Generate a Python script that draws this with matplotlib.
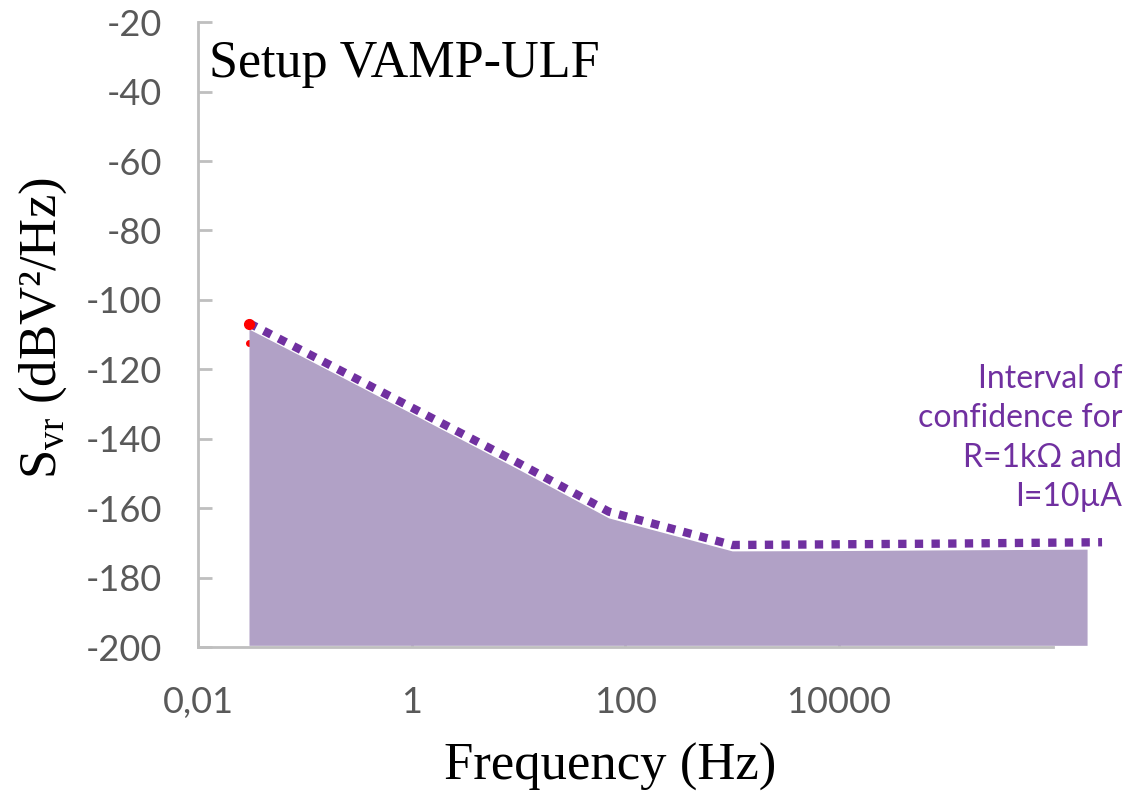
import matplotlib
matplotlib.use("Agg")
import matplotlib.pyplot as plt
import numpy as np

plt.rcParams["axes.unicode_minus"] = False

# Data
freq_low = [0.03, 0.1, 1, 10, 70, 1000, 10000, 100000, 2.1e6]
svr_low = [-108.4, -116.7, -132.7, -148.8, -162.8, -172.3, -172.2, -172.0, -171.8]
freq_high = [0.03, 0.1, 1, 10, 70, 1000, 10000, 100000, 2.9e6]
svr_high = [-106.7, -115.0, -131.0, -147.0, -161.0, -170.6, -170.4, -170.2, -169.8]
red_freq = [0.03, 0.03]
red_svr = [-107.0, -112.5]
fill_floor = -199.5

xticks = [0.01, 1, 100, 10000]
xticklabels = ["0,01", "1", "100", "10000"]
yticks = list(range(-200, 0, 20))

fig = plt.figure(figsize=(11.38, 7.92), dpi=100)
ax = fig.add_axes([0.174, 0.183, 0.751, 0.789])
ax.set_xscale("log")
ax.set_xlim(0.01, 1e6)
ax.set_ylim(-200, -20)

ax.fill_between(freq_low, svr_low, fill_floor, color="#B1A1C6", lw=0, zorder=2, clip_on=False)
ax.plot(freq_high, svr_high, color="#7030A0", lw=6, linestyle=(0, (1.0, 1.0)),
        dash_capstyle="butt", zorder=3, clip_on=False)
ax.plot(red_freq[:1], red_svr[:1], "o", color="#FF0000", ms=7, zorder=4, clip_on=False)
ax.plot(red_freq[1:], red_svr[1:], "o", color="#FF0000", ms=4, zorder=1, clip_on=False)

for s in ["top", "right"]:
    ax.spines[s].set_visible(False)
for s in ["left", "bottom"]:
    ax.spines[s].set_color("#BFBFBF")
    ax.spines[s].set_linewidth(2)

ax.set_xticks(xticks)
ax.set_xticklabels(xticklabels)
ax.xaxis.set_minor_locator(matplotlib.ticker.NullLocator())
ax.set_yticks(yticks)
ax.tick_params(axis="both", direction="in", colors="#BFBFBF", labelcolor="#595959",
               labelsize=26, width=2)
ax.tick_params(axis="y", length=10, pad=26)
ax.tick_params(axis="x", length=5, pad=28)
for lab in ax.get_xticklabels() + ax.get_yticklabels():
    lab.set_fontfamily("Lato")

fig.text(610 / 1138, 0.016, "Frequency (Hz)", fontfamily="Liberation Serif", fontsize=38,
         ha="center", va="baseline")
fig.text(43 / 1138, 1 - 328 / 792, r"S$_{\mathregular{vr}}$ (dBV²/Hz)", fontfamily="Liberation Serif",
         fontsize=38, rotation=90, ha="center", va="center")

ax.text(0.013, 0.972, "Setup VAMP-ULF", transform=ax.transAxes, fontfamily="Liberation Serif",
        fontsize=37.5, va="top", ha="left")

fig.text(0.986, 0.447, "Interval of\nconfidence for\nR=1kΩ and\nI=10µA", color="#7030A0",
         fontfamily="Lato", fontsize=23, ha="right", va="center", linespacing=1.4)

fig.savefig("out.png", dpi=100)
